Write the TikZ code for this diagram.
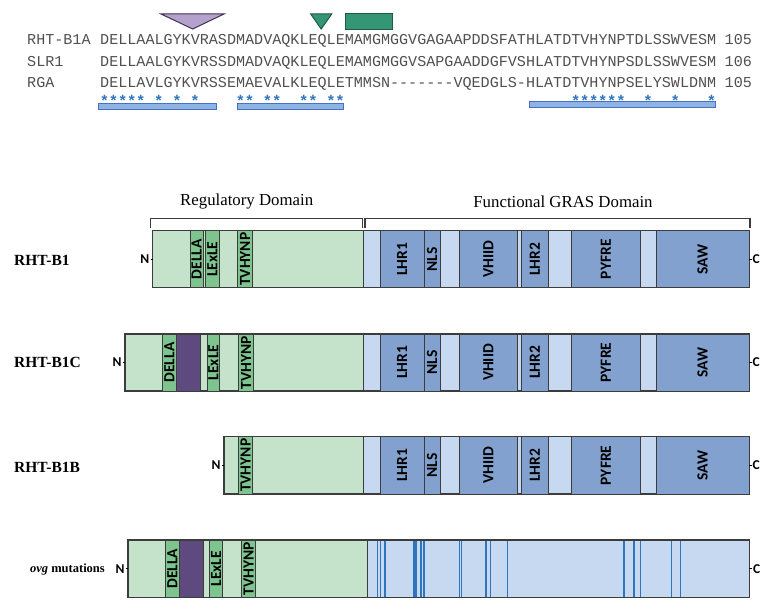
\documentclass[tikz,border=0pt]{standalone}
\usepackage{fontspec}
\setmainfont{Liberation Serif}
\newfontfamily\seqfont{Liberation Mono}
\newfontfamily\boxfont{Carlito}
\usepackage{tikz}
\usetikzlibrary{positioning}
\usepackage{xcolor}
\definecolor{regcol}   {RGB}{197, 227, 202}
\definecolor{motifcol} {RGB}{125, 196, 143}
\definecolor{inscol}   {RGB}{ 94,  74, 126}
\definecolor{grascol}  {RGB}{198, 217, 240}
\definecolor{subcol}   {RGB}{130, 161, 206}
\definecolor{mutcol}   {RGB}{ 46, 117, 190}
\definecolor{barfill}  {RGB}{143, 180, 227}
\definecolor{barline}  {RGB}{ 68, 114, 196}
\definecolor{lilac}    {RGB}{180, 162, 205}
\definecolor{lilacline}{RGB}{ 64,  49,  82}
\definecolor{teal}     {RGB}{ 52, 150, 116}
\definecolor{tealline} {RGB}{ 30,  90,  70}
\definecolor{seqgray}  {RGB}{ 80,  80,  80}
\definecolor{outline}  {RGB}{ 60,  60,  60}
\tikzset{
  regbox/.style={draw=outline, fill=regcol, line width=1.1pt},
  motifbox/.style={draw=outline, fill=motifcol, line width=0.9pt},
  insbox/.style={draw=outline, fill=inscol, line width=0.9pt},
  grasbox/.style={draw=outline, fill=grascol, line width=1.1pt},
  subbox/.style={draw=outline, fill=subcol, line width=0.9pt},
  mutline/.style={draw=mutcol, line width=1.25pt},
  boxlabel/.style={rotate=90, inner sep=0pt,
    font=\boxfont\bfseries\fontsize{15.5bp}{17bp}\selectfont},
  endlabel/.style={inner sep=1pt,
    font=\boxfont\bfseries\fontsize{13.5bp}{15bp}\selectfont},
  endtick/.style={draw=black, line width=1.3pt},
  rowlabel/.style={anchor=west, inner sep=0pt,
    font=\bfseries\fontsize{15.5bp}{17bp}\selectfont},
  headlabel/.style={inner sep=0pt, font=\fontsize{16.8bp}{19bp}\selectfont},
  bracket/.style={draw=outline, line width=1.1pt},
  seqtext/.style={anchor=base west, inner sep=0pt, text=seqgray,
    font=\seqfont\fontsize{15.1bp}{18bp}\selectfont},
  starmark/.style={anchor=base, inner sep=0pt, text=mutcol,
    font=\seqfont\bfseries\fontsize{15.5bp}{18bp}\selectfont},
  consbar/.style={draw=barline, fill=barfill, line width=1pt},
}

\begin{document}
\begin{tikzpicture}[x=1bp, y=-1bp]
\useasboundingbox (0,0) rectangle (775,612);

% ── Sequence alignment ────────────────────────────────────────────────────────
\draw[draw=lilacline, fill=lilac, line width=1pt]
  (161,14) -- (224,14) -- (192.7,29) -- cycle;
\draw[draw=tealline, fill=teal, line width=1pt]
  (310.7,14) -- (331.7,14) -- (321.2,29) -- cycle;
\draw[draw=tealline, fill=teal, line width=1pt]
  (345,14) rectangle (392.7,29.3);

\node[seqtext] (labA) at (27,45) {RHT-B1A};
\node[seqtext] (seqA) at (100,45)
  {DELLAALGYKVRASDMADVAQKLEQLEMAMGMGGVGAGAAPDDSFATHLATDTVHYNPTDLSSWVESM};
\node[seqtext] (numA) at (724.5,45) {105};

\node[seqtext] (labS) at (27,66.5) {SLR1};
\node[seqtext] (seqS) at (100,66.5)
  {DELLAALGYKVRSSDMADVAQKLEQLEMAMGMGGVSAPGAADDGFVSHLATDTVHYNPSDLSSWVESM};
\node[seqtext] (numS) at (724.5,66.5) {106};

\node[seqtext] (labR) at (27,88) {RGA};
\node[seqtext] (seqR) at (100,88)
  {DELLAVLGYKVRSSEMAEVALKLEQLETMMSN-------VQEDGLS-HLATDTVHYNPSELYSWLDNM};
\node[seqtext] (numR) at (724.5,88) {105};

% conserved positions
\foreach \i in {0,1,2,3,4,6,8,10,15,16,18,19,22,23,25,26,52,53,54,55,56,57,60,63,67}
  \node[starmark] (star\i) at ({100+9.06*(\i+0.5)},107) {*};

\draw[consbar] (98.7,103.3) rectangle (216.7,109.3);
\draw[consbar] (237.7,103.3) rectangle (343.3,109.3);
\draw[consbar] (529,101.5) rectangle (715,107.5);

% ── Domain headers ────────────────────────────────────────────────────────────
\node[headlabel] (reghead) at (246.7,201.5) {Regulatory Domain};
\node[headlabel] (grashead) at (563,201.5) {Functional GRAS Domain};
\draw[bracket] (150.7,228.3) |- (362.3,218.3) -- (362.3,228.3);
\draw[bracket] (365,228.3) |- (750,218.3) -- (750,228.3);

% ── GRAS domain, rows 1-3 ─────────────────────────────────────────────────────
\foreach \t/\b/\r in {230.7/287.7/1, 334/391/2, 436.7/494/3} {
  \draw[grasbox] (363.3,\t) rectangle (749,\b);
  \foreach \xa/\xb/\lab in {380/424/LHR1, 424/440/NLS, 459.3/517.3/VHIID,
                            521/548.7/LHR2, 571.7/640/PYFRE, 656/749/SAW} {
    \draw[subbox] (\xa,\t) rectangle (\xb,\b);
    \node[boxlabel] (\lab-\r) at ({(\xa+\xb)/2},{(\t+\b)/2}) {\lab};
  }
  \node[endlabel, anchor=west] (c-\r) at (751.5,{(\t+\b)/2}) {C};
  \draw[endtick] (749,{(\t+\b)/2}) -- (c-\r.west);
}

% ── RHT-B1 ────────────────────────────────────────────────────────────────────
\draw[regbox] (152.7,230.7) rectangle (363.3,287.7);
\draw[motifbox] (190,230.7) rectangle (203.3,287.7);
\draw[motifbox] (205.3,230.7) rectangle (219.3,287.7);
\draw[motifbox] (237.7,230.7) rectangle (252.3,287.7);
\node[boxlabel] (della-1) at (196.7,259.2) {DELLA};
\node[boxlabel] (lexle-1) at (212.3,259.2) {LExLE};
\node[boxlabel] (tvhynp-1) at (245,259.2) {TVHYNP};
\node[rowlabel] (row1) at (14,260) {RHT-B1};
\node[endlabel, anchor=east] (n-1) at (150.5,259.2) {N};
\draw[endtick] (n-1.east) -- (152.7,259.2);

% ── RHT-B1C ───────────────────────────────────────────────────────────────────
\draw[regbox] (125,334) rectangle (363.3,391);
\draw[motifbox] (162.7,334) rectangle (176,391);
\draw[insbox] (176,334) rectangle (200.7,391);
\draw[motifbox] (207.3,334) rectangle (219.3,391);
\draw[motifbox] (238.7,334) rectangle (253.3,391);
\node[boxlabel] (della-2) at (169.3,362.5) {DELLA};
\node[boxlabel] (lexle-2) at (213.3,362.5) {LExLE};
\node[boxlabel] (tvhynp-2) at (246,362.5) {TVHYNP};
\node[rowlabel] (row2) at (14,362.7) {RHT-B1C};
\node[endlabel, anchor=east] (n-2) at (122.8,362.5) {N};
\draw[endtick] (n-2.east) -- (125,362.5);

% ── RHT-B1B ───────────────────────────────────────────────────────────────────
\draw[regbox] (224,436.7) rectangle (363.3,494);
\draw[motifbox] (238.3,436.7) rectangle (252.7,494);
\node[boxlabel] (tvhynp-3) at (245.5,465.3) {TVHYNP};
\node[rowlabel] (row3) at (14,467) {RHT-B1B};
\node[endlabel, anchor=east] (n-3) at (221.8,465.3) {N};
\draw[endtick] (n-3.east) -- (224,465.3);

% ── ovg mutations ─────────────────────────────────────────────────────────────
\draw[regbox] (128,540) rectangle (367.3,597.7);
\draw[motifbox] (165.7,540) rectangle (179,597.7);
\draw[insbox] (179,540) rectangle (203.7,597.7);
\draw[motifbox] (209.3,540) rectangle (222.7,597.7);
\draw[motifbox] (241.3,540) rectangle (255.7,597.7);
\node[boxlabel] (della-4) at (172.3,568.8) {DELLA};
\node[boxlabel] (lexle-4) at (216,568.8) {LExLE};
\node[boxlabel] (tvhynp-4) at (248.5,568.8) {TVHYNP};
\draw[grasbox] (367.3,540) rectangle (749.3,597.7);
\foreach \x in {377.7,380.7,385,414,416,421,424,459.3,461.7,486,490.7,507.3,
                624,634,640.7,671.3,680.7}
  \draw[mutline] (\x,541) -- (\x,596.7);
\draw[draw=outline, line width=1.1pt] (367.3,540) rectangle (749.3,597.7);
\node[rowlabel, anchor=east, font=\bfseries\fontsize{12.5bp}{14bp}\selectfont]
  (row4) at (105,569) {\textit{ovg} mutations};
\node[endlabel, anchor=east] (n-4) at (125.8,568.8) {N};
\draw[endtick] (n-4.east) -- (128,568.8);
\node[endlabel, anchor=west] (c-4) at (751.8,568.8) {C};
\draw[endtick] (749.3,568.8) -- (c-4.west);

\end{tikzpicture}
\end{document}
